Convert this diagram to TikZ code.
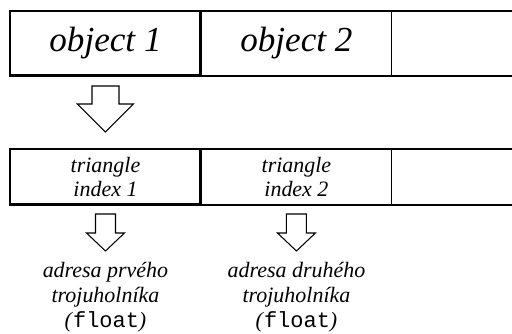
\documentclass[tikz,border=0pt]{standalone}
\usepackage{fontspec}
\setmainfont{Liberation Serif}
\setmonofont{Liberation Mono}
\usetikzlibrary{positioning}

\tikzset{
  cell/.style={draw, line width=0.6pt, inner sep=0pt, outer sep=0pt,
    minimum width=3.82cm},
  bigcell/.style={cell, minimum height=1.3cm,
    font=\fontsize{20}{24}\selectfont\itshape},
  smallcell/.style={cell, minimum height=1.12cm, align=center,
    font=\fontsize{12.5}{14.2}\selectfont\itshape},
  addr/.style={align=center, inner sep=0pt,
    font=\fontsize{12.5}{14.2}\selectfont\itshape},
  % hollow arrow pointing down: shaft half, head half, head start, tip
  pics/hollowdown/.style n args={4}{code={
    \draw[line width=0.6pt, line join=miter]
      (-#1,0) -- (-#1,#3) -- (-#2,#3) -- (0,#4) -- (#2,#3) -- (#1,#3)
      -- (#1,0) -- cycle;
  }}
}
\newcommand{\flt}{(\textup{\texttt{float}})}

\begin{document}
\begin{tikzpicture}[x=0.02cm, y=-0.02cm]
\clip (0,0) rectangle (512,334);

% --- objects ---
\node[bigcell, anchor=west] (obj1) at (10,43.5) {object 1};
\node[bigcell, right=0pt of obj1] (obj2) {object 2};
\node[bigcell, right=0pt of obj2] (obj3) {};
\draw[line width=1.7pt] (obj1.south west) rectangle (obj1.north east);

\pic at ([yshift=-0.2cm]obj1.south) {hollowdown={13.5}{28}{18}{46}};

% --- triangle indices ---
\node[smallcell, anchor=west] (tri1) at (10,177) {triangle\\index 1};
\node[smallcell, right=0pt of tri1] (tri2) {triangle\\index 2};
\node[smallcell, right=0pt of tri2] (tri3) {};
\draw[line width=1.7pt] (tri1.south west) rectangle (tri1.north east);

\pic at ([yshift=-0.18cm]tri1.south) {hollowdown={10}{19}{19}{37}};
\pic at ([yshift=-0.18cm]tri2.south) {hollowdown={10}{19}{19}{37}};

% --- addresses ---
\node[addr, below=1.14cm of tri1.south] (addr1)
  {adresa prvého\\trojuholníka\\\flt};
\node[addr, below=1.14cm of tri2.south] (addr2)
  {adresa druhého\\trojuholníka\\\flt};

\end{tikzpicture}
\end{document}
